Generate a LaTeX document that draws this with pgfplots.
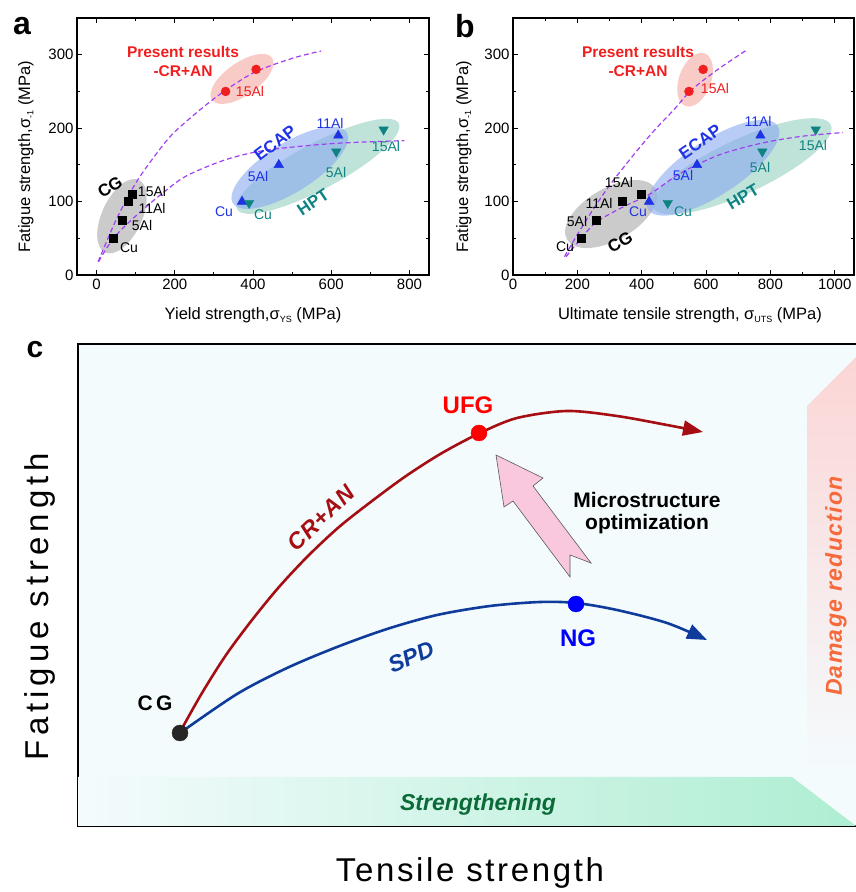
\documentclass[border=0pt]{standalone}
\usepackage{pgfplots}
\pgfplotsset{compat=1.18}
\usepackage{fontspec}
\setmainfont{Liberation Sans}
\usetikzlibrary{arrows.meta}
\newcommand\fs[1]{\fontsize{#1}{#1}\selectfont}
\newcommand\sub[1]{\raisebox{-0.35ex}{\fs{9}#1}}
\definecolor{ecap}{HTML}{1E32E6}
\definecolor{hpt}{HTML}{0F8282}
\definecolor{pres}{HTML}{F01E1E}
\definecolor{fitc}{HTML}{A040F0}
\definecolor{crred}{HTML}{A50F14}
\definecolor{spdblue}{HTML}{0F3C9B}
\definecolor{bgc}{HTML}{F4FBFD}
\definecolor{mint}{HTML}{AEEED2}
\definecolor{pinkband}{HTML}{FCD4D4}
\definecolor{dmg}{HTML}{F5693A}
\definecolor{strg}{HTML}{0B6B38}
\definecolor{arrowpink}{HTML}{F9C8DE}
\definecolor{ellred}{HTML}{F5A8A0}
\definecolor{ellgray}{HTML}{A8A8A8}
\definecolor{ellblue}{HTML}{8AAAF0}
\definecolor{elltealc}{HTML}{94D0C0}

\pgfplotsset{
  panel/.style={
    scale only axis, height=257pt, ymin=0, ymax=350,
    ytick={0,100,200,300}, minor y tick num=1, minor x tick num=1,
    tick align=inside, major tick length=5pt, minor tick length=3pt,
    every tick/.style={black, line width=0.8pt},
    axis line style={line width=1.1pt},
    /pgf/number format/assume math mode=true,
    /pgf/number format/1000 sep={},
    ticklabel style={font=\fs{15}},
    label style={font=\fs{16.5}},
    ylabel style={at={(axis description cs:-0.145,0.46)}, anchor=center},
    xlabel style={at={(axis description cs:0.5,-0.155)}, anchor=center},
  },
  fitline/.style={fitc, dash pattern=on 5pt off 3pt, line width=1.2pt, smooth, no marks},
  cgm/.style={only marks, mark=square*, mark size=4pt, black},
  prm/.style={only marks, mark=*, mark size=4.5pt, pres},
  ecm/.style={only marks, mark=triangle*, mark size=5.5pt, ecap},
  hpm/.style={only marks, mark=triangle*, mark size=5.5pt, hpt, mark options={rotate=180}},
}
\newcommand\ellip[6]{\fill[#1, fill opacity=0.6, rotate around={#4:(axis cs:#2,#3)}] (axis cs:#2,#3) ellipse [x radius=#5pt, y radius=#6pt];}

\begin{document}
\begin{tikzpicture}[x=1pt,y=1pt]
\useasboundingbox (0,0) rectangle (856,892);

% ---------------- panel a ----------------
\begin{axis}[panel, at={(77pt,617pt)}, anchor=south west, width=352pt,
  xmin=-50, xmax=850, xtick={0,200,400,600,800},
  xlabel={Yield strength,σ\sub{YS} (MPa)},
  ylabel={Fatigue strength,σ\sub{-1} (MPa)}]
\ellip{ellred}{372}{267}{35}{36.7}{16.5}
\ellip{ellgray}{65}{80}{65}{40}{20}
\ellip{elltealc}{566}{148}{28}{91.5}{23}
\ellip{ellblue}{494}{146}{32}{67}{24.5}
\addplot[fitline] coordinates {(4,18) (50,75) (100,125) (150,163) (200,195) (300,240) (400,275) (500,295) (574,305)};
\addplot[fitline] coordinates {(5,18) (30,40) (60,60) (110,85) (170,112) (230,135) (330,157) (434,170) (604,179) (787,183)};
\addplot[cgm] coordinates {(43,50) (66,75) (82,100) (90,110)};
\addplot[prm] coordinates {(330,250) (408,280)};
\addplot[ecm] coordinates {(372,100) (466,150) (618,190)};
\addplot[hpm] coordinates {(390,98) (613,168) (734,198)};
\end{axis}

% ---------------- panel b ----------------
\begin{axis}[panel, at={(513pt,617pt)}, anchor=south west, width=341pt,
  xmin=0, xmax=1060, xtick={0,200,400,600,800,1000},
  xlabel={Ultimate tensile strength, σ\sub{UTS} (MPa)},
  xlabel style={at={(axis description cs:0.519,-0.155)}},
  ylabel style={at={(axis description cs:-0.144,0.46)}},
  ylabel={Fatigue strength,σ\sub{-1} (MPa)}]
\ellip{ellred}{566}{266}{70}{28}{16}
\ellip{ellgray}{305}{83}{30}{51}{26}
\ellip{elltealc}{712}{148}{25}{98}{27}
\ellip{ellblue}{622}{146}{33}{77}{27.5}
\addplot[fitline] coordinates {(160,25) (200,55) (250,90) (300,122) (350,150) (400,177) (450,202) (500,225) (550,250) (600,268) (650,284) (725,306)};
\addplot[fitline] coordinates {(165,25) (212,50) (259,72) (339,92) (425,110) (500,133) (557,147) (650,165) (777,180) (900,189) (1026,194)};
\addplot[cgm] coordinates {(212,50) (259,75) (339,100) (397,110)};
\addplot[prm] coordinates {(547,250) (591,280)};
\addplot[ecm] coordinates {(423,100) (572,150) (769,190)};
\addplot[hpm] coordinates {(481,98) (775,168) (941,198)};
\end{axis}

% panel a/b annotations
\node[font=\fs{32}\bfseries] at (22,866) {a};
\node[font=\fs{32}\bfseries] at (465,866) {b};
\begin{scope}[every node/.style={font=\fs{14}}]
% a
\node[font=\fs{15.5}\bfseries, text=pres] at (183,840) {Present results};
\node[font=\fs{15.5}\bfseries, text=pres] at (183,821) {-CR+AN};
\node[text=pres] at (250,800) {15Al};
\node[font=\fs{17}\bfseries, rotate=32] at (110,705) {CG};
\node at (152,700) {15Al};
\node at (152,684) {11Al};
\node at (142,666) {5Al};
\node at (129,644) {Cu};
\node[font=\fs{17}\bfseries, rotate=37, text=ecap] at (275,749) {ECAP};
\node[font=\fs{17}\bfseries, rotate=34, text=hpt] at (313,690) {HPT};
\node[text=ecap] at (330,769) {11Al};
\node[text=ecap] at (258,715) {5Al};
\node[text=ecap] at (224,680) {Cu};
\node[text=hpt] at (386,745) {15Al};
\node[text=hpt] at (336,719) {5Al};
\node[text=hpt] at (263,677) {Cu};
% b
\node[font=\fs{15.5}\bfseries, text=pres] at (638,840) {Present results};
\node[font=\fs{15.5}\bfseries, text=pres] at (638,821) {-CR+AN};
\node[text=pres] at (715,803) {15Al};
\node[font=\fs{17}\bfseries, rotate=30] at (620,650) {CG};
\node at (619,709) {15Al};
\node at (599,689) {11Al};
\node at (577,670) {5Al};
\node at (565,645) {Cu};
\node[font=\fs{17}\bfseries, rotate=35, text=ecap] at (700,750) {ECAP};
\node[font=\fs{17}\bfseries, rotate=31, text=hpt] at (743,695) {HPT};
\node[text=ecap] at (758,771) {11Al};
\node[text=ecap] at (683,716) {5Al};
\node[text=ecap] at (638,680) {Cu};
\node[text=hpt] at (813,746) {15Al};
\node[text=hpt] at (760,724) {5Al};
\node[text=hpt] at (683,680) {Cu};
\end{scope}

% ---------------- panel c ----------------
\begin{axis}[at={(78pt,66pt)}, anchor=south west, scale only axis,
  width=800pt, height=482pt, xmin=78, xmax=878, ymin=66, ymax=548,
  xtick=\empty, ytick=\empty, axis line style={line width=2pt},
  axis background/.style={fill=bgc}]
\shade[left color=bgc, right color=mint] (axis cs:78,66) -- (axis cs:78,115) -- (axis cs:792,115) -- (axis cs:856,66) -- cycle;
\shade[top color=pinkband, bottom color=bgc] (axis cs:807,122) -- (axis cs:807,486) -- (axis cs:869,548) -- (axis cs:900,548) -- (axis cs:900,122) -- cycle;
\filldraw[fill=arrowpink, draw=gray!70!black, line width=0.6pt] (axis cs:496,437) -- (axis cs:543,414) -- (axis cs:533,406) -- (axis cs:591,329) -- (axis cs:570,337) -- (axis cs:570,315) -- (axis cs:513,391) -- (axis cs:504,385) -- cycle;
\addplot[crred, line width=2.6pt, smooth, -{Triangle[length=20pt,width=15pt]}] coordinates {(180,160) (202,199) (226,237) (252,272) (279,305) (308,336) (339,365) (372,391) (406,416) (442,439) (480,459) (517,474) (567,481) (617,476) (667,467) (703,460)};
\addplot[spdblue, line width=2.6pt, smooth, -{Triangle[length=20pt,width=15pt]}] coordinates {(180,159) (237,198) (287,224) (337,245) (387,263) (437,277) (490,286) (540,290) (576,289) (617,282) (667,269) (707,252)};
\addplot[only marks, mark=*, mark size=8pt, black!85] coordinates {(180,159)};
\addplot[only marks, mark=*, mark size=8pt, red] coordinates {(479,459)};
\addplot[only marks, mark=*, mark size=8pt, blue] coordinates {(576,288)};
\end{axis}

\node[font=\fs{30}\bfseries] at (35,542) {c};
\node[font=\fs{24}\bfseries, text=red] at (468,487) {UFG};
\node[font=\fs{24}\bfseries, text=blue] at (578,254) {NG};
\node[font=\fs{21}\bfseries] at (155,189) {C\,G};
\node[font=\fs{23}\bfseries\itshape, text=spdblue, rotate=23] at (411,235) {SPD};
\node[font=\fs{23}\bfseries\itshape, text=crred, rotate=44] at (321,374) {\addfontfeatures{LetterSpace=4}CR+AN};
\node[font=\fs{21}\bfseries, align=center] at (647,379) {Microstructure\\[1pt]optimization};
\node[font=\fs{23}\bfseries\itshape, text=strg] at (478,87) {Strengthening};
\node[font=\fs{23}\bfseries\itshape, text=dmg, rotate=90] at (836,306) {\addfontfeatures{LetterSpace=6}Damage reduction};
\node[font=\fs{33}] at (470,19) {\addfontfeatures{LetterSpace=8}Tensile strength};
\node[font=\fs{33}, rotate=90] at (40,285) {\addfontfeatures{LetterSpace=15}Fatigue strength};
\end{tikzpicture}
\end{document}
